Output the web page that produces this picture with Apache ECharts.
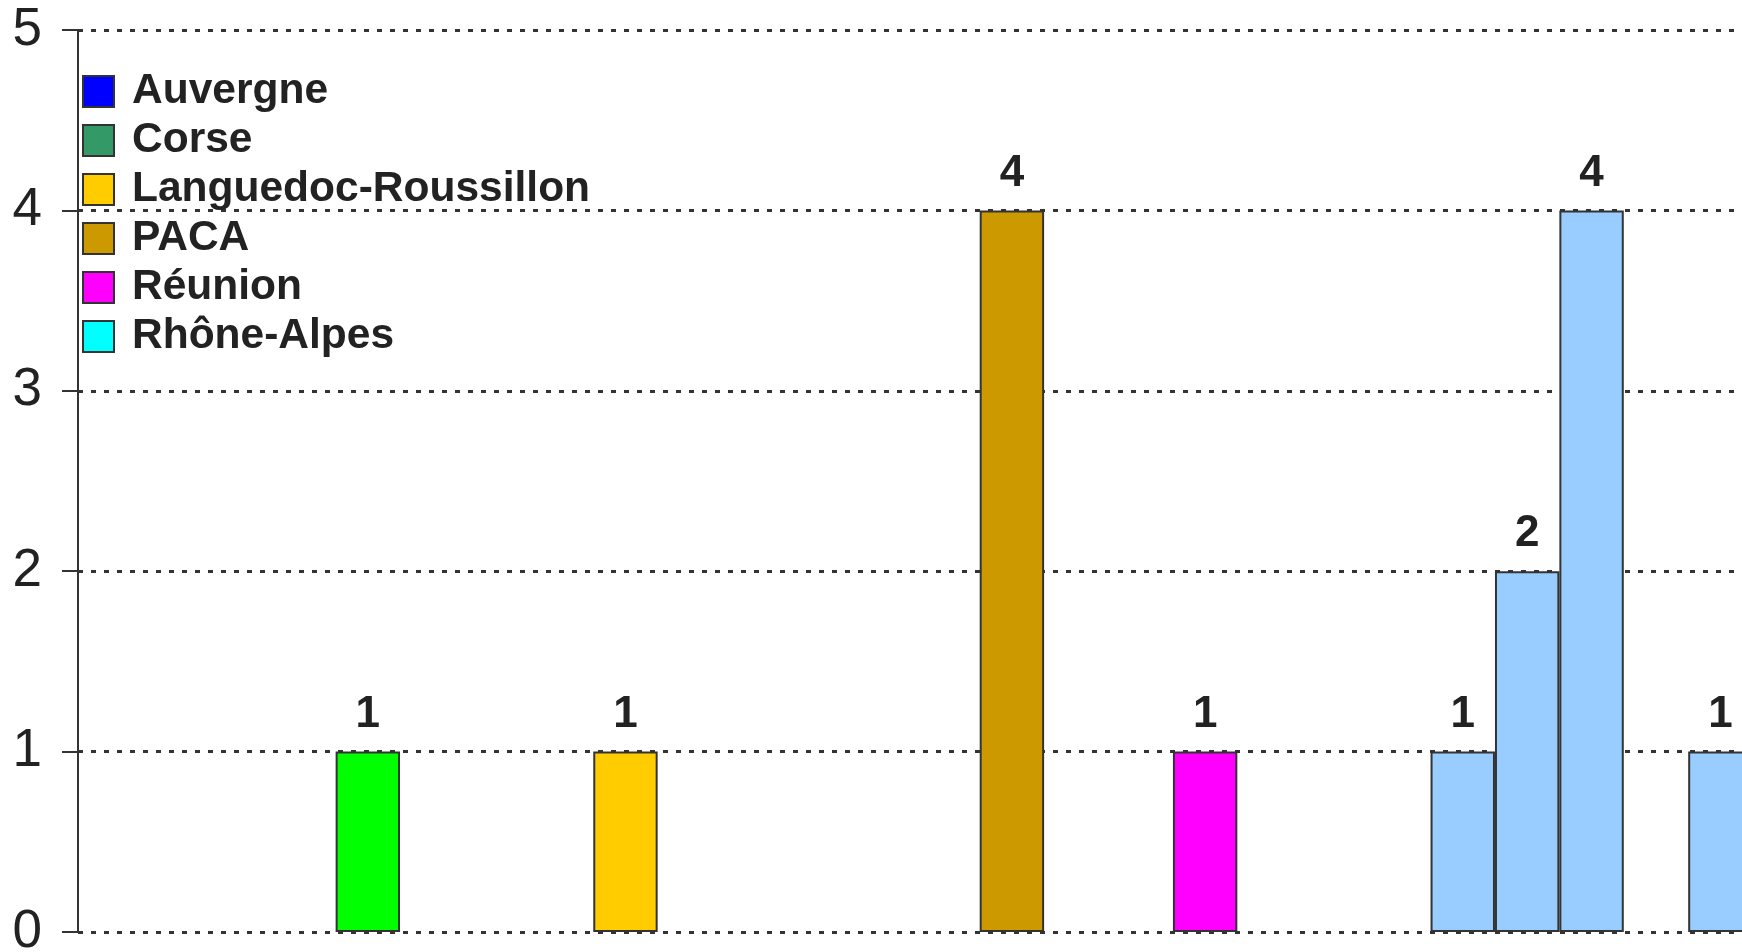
<!DOCTYPE html>
<html>
<head>
<meta charset="utf-8">
<script src="https://cdn.jsdelivr.net/npm/echarts@6/dist/echarts.min.js"></script>
<style>
html,body{margin:0;padding:0;background:#fff;}
#chart{width:1742px;height:952px;}
</style>
</head>
<body>
<div id="chart"></div>
<script>
// Category slots along the x axis (labels not visible in the reference)
const categories = ['1','2','3','4','5','6','7','8','9','10','11','12','13','14','15','16','17','18','19','20','21','22','23','24','25','26','27'];
const legendNames = ['Auvergne','Corse','Languedoc-Roussillon','PACA','Réunion','Rhône-Alpes'];
const yTicks = [0,1,2,3,4,5];

const auvergne   = [null,null,null,null,null,null,null,null,null,null,null,null,null,null,null,null,null,null,null,null,null,null,null,null,null,null,null];
const corse      = [null,null,null,null,null,null,null,null,null,null,null,null,null,null,null,null,null,null,null,null,null,null,null,null,null,null,null];
const languedoc  = [null,null,null,null,null,null,null,null,1,null,null,null,null,null,null,null,null,null,null,null,null,null,null,null,null,null,null];
const paca       = [null,null,null,null,null,null,null,null,null,null,null,null,null,null,4,null,null,null,null,null,null,null,null,null,null,null,null];
const reunion    = [null,null,null,null,null,null,null,null,null,null,null,null,null,null,null,null,null,1,null,null,null,null,null,null,null,null,null];
const rhone      = [null,null,null,null,null,null,null,null,null,null,null,null,null,null,null,null,null,null,null,null,null,null,null,null,null,null,null];
const greenGroup = [null,null,null,null,1,null,null,null,null,null,null,null,null,null,null,null,null,null,null,null,null,null,null,null,null,null,null];
const blueGroup  = [null,null,null,null,null,null,null,null,null,null,null,null,null,null,null,null,null,null,null,null,null,1,2,4,null,1,null];

const FONT = '"Liberation Sans", Arial, sans-serif';

function mk(name, data, color) {
  return {
    name: name,
    type: 'bar',
    stack: 'all',
    data: data,
    barCategoryGap: '0%',
    itemStyle: { color: color, borderColor: '#333', borderWidth: 2 },
    label: {
      show: true, position: 'top', distance: 15,
      fontFamily: FONT, fontWeight: 'bold', fontSize: 44, color: '#222'
    },
    emphasis: { disabled: true }
  };
}

const chart = echarts.init(document.getElementById('chart'), null, { renderer: 'canvas' });
chart.setOption({
  animation: false,
  backgroundColor: '#fff',
  grid: { left: 78, top: 30, bottom: 20, width: 1739, containLabel: false, outerBoundsMode: 'none' },
  legend: {
    data: legendNames,
    orient: 'vertical',
    left: 77, top: 65,
    itemWidth: 31, itemHeight: 31,
    itemGap: 6,
    icon: 'rect',
    selectedMode: false,
    textStyle: { fontFamily: FONT, fontWeight: 'bold', fontSize: 42.5, color: '#222', padding: [0,0,0,13] }
  },
  xAxis: {
    type: 'category',
    data: categories,
    axisLine: { show: false },
    axisTick: { show: false },
    axisLabel: { show: false },
    splitLine: { show: false }
  },
  yAxis: {
    type: 'value',
    min: yTicks[0], max: yTicks[yTicks.length - 1], interval: 1,
    axisLine: { show: true, lineStyle: { color: '#333', width: 2 } },
    axisTick: { show: true, length: 16, lineStyle: { color: '#333', width: 2 } },
    axisLabel: { fontFamily: FONT, fontSize: 53, color: '#222', margin: 36 },
    splitLine: { show: true, lineStyle: { color: '#333', width: 3, type: [5,8] } }
  },
  series: [
    mk('Auvergne', auvergne, '#0000FF'),
    mk('Corse', corse, '#339966'),
    mk('Languedoc-Roussillon', languedoc, '#FFCC00'),
    mk('PACA', paca, '#CC9900'),
    mk('Réunion', reunion, '#FF00FF'),
    mk('Rhône-Alpes', rhone, '#00FFFF'),
    mk('groupe vert', greenGroup, '#00FF00'),
    mk('groupe bleu', blueGroup, '#99CCFF')
  ]
});
</script>
</body>
</html>
